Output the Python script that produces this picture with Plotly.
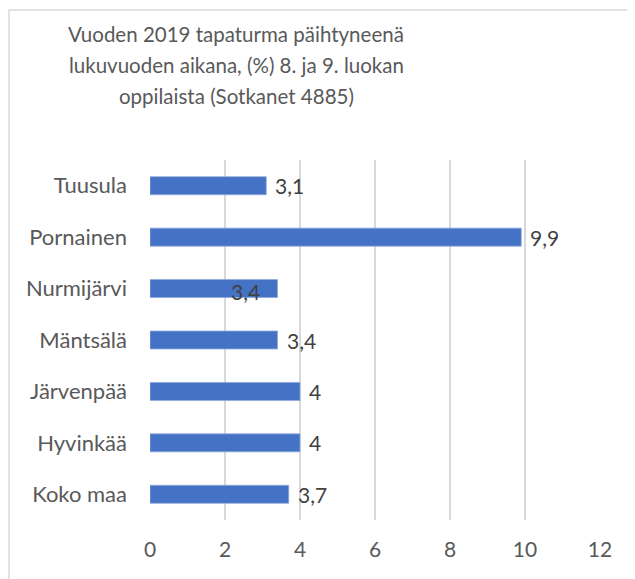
import plotly.graph_objects as go

categories = ["Tuusula", "Pornainen", "Nurmijärvi", "Mäntsälä", "Järvenpää", "Hyvinkää", "Koko maa"]
values = [3.1, 9.9, 3.4, 3.4, 4.0, 4.0, 3.7]
x_ticks = [0, 2, 4, 6, 8, 10, 12]
title_lines = ["Vuoden 2019 tapaturma päihtyneenä",
               "lukuvuoden aikana, (%) 8. ja 9. luokan",
               "oppilaista (Sotkanet 4885)"]


def fmt(v):
    return str(int(v)) if float(v).is_integer() else str(v).replace(".", ",")


FONT = "Lato, 'Open Sans', sans-serif"
GRAY = "#595959"
FS = 21

# page offset of the figure (browser body margin)
OFF = 8
PL, PT, PW, PH = 150 - OFF, 160 - OFF, 450, 360

fig = go.Figure()
fig.add_trace(go.Bar(
    x=values, y=categories, orientation="h",
    marker=dict(color="#4472C4", line=dict(color="#8FAADC", width=0.8)),
    width=0.35, hoverinfo="x+y",
))

annotations = []
for c, v in zip(categories, values):
    if c == "Nurmijärvi":
        annotations.append(dict(x=v, y=c, xref="x", yref="y", text=fmt(v), showarrow=False,
                                xanchor="right", xshift=-16, yshift=-3,
                                font=dict(family=FONT, size=FS, color="#404040")))
    else:
        annotations.append(dict(x=v, y=c, xref="x", yref="y", text=fmt(v), showarrow=False,
                                xanchor="left", xshift=7, yshift=0,
                                font=dict(family=FONT, size=FS, color="#404040")))

# title, one annotation per line (Excel-like line pitch)
for i, line in enumerate(title_lines):
    ypx = 34 + 30.8 * i
    annotations.append(dict(
        x=(236 - 150) / PW, y=1 + (160 - ypx) / PH, xref="paper", yref="paper",
        text=line, showarrow=False, xanchor="center", yanchor="middle",
        font=dict(family=FONT, size=20.5, color=GRAY)))

fig.update_layout(
    width=635 - OFF, height=579 - OFF,
    margin=dict(l=PL, r=635 - OFF - PL - PW, t=PT, b=579 - OFF - PT - PH),
    paper_bgcolor="white", plot_bgcolor="white",
    showlegend=False,
    annotations=annotations,
    shapes=[dict(type="rect", xref="paper", yref="paper",
                 x0=(9 - 150) / PW, x1=(660 - 150) / PW,
                 y0=-(610 - 520) / PH, y1=1 + (160 - 10) / PH,
                 line=dict(color="#D9D9D9", width=1.5), fillcolor="rgba(0,0,0,0)", layer="below")],
    xaxis=dict(range=[0, 12], tickvals=x_ticks, ticktext=[str(t) for t in x_ticks],
               showgrid=True, gridcolor="#D9D9D9", gridwidth=1.5,
               zeroline=False, showline=False, ticks="",
               ticklabelstandoff=15,
               tickfont=dict(family=FONT, size=FS, color=GRAY), fixedrange=True),
    yaxis=dict(categoryorder="array", categoryarray=categories[::-1],
               showgrid=False, zeroline=False, showline=False, ticks="",
               ticklabelstandoff=22,
               tickfont=dict(family=FONT, size=22, color=GRAY), fixedrange=True),
)

fig.write_html("out.html")
